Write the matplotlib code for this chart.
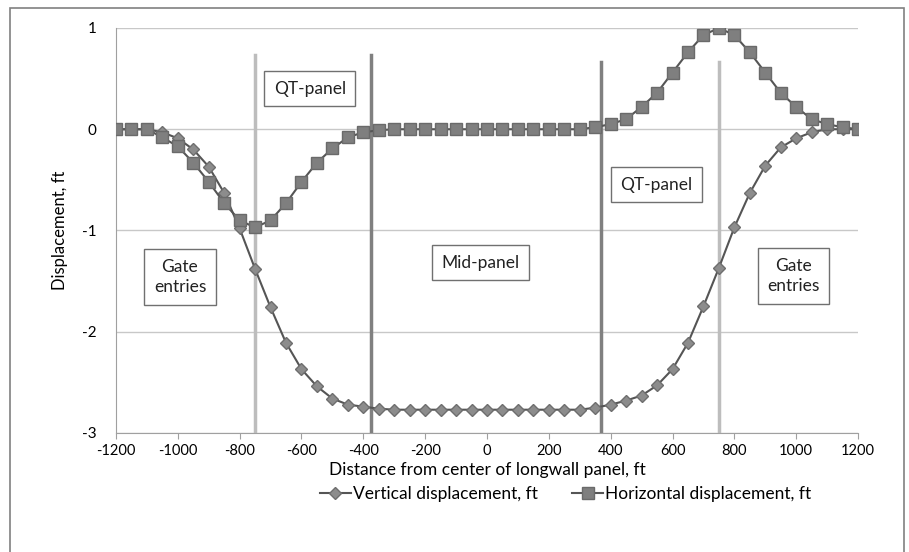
import matplotlib
matplotlib.use('Agg')
import matplotlib.pyplot as plt
from matplotlib.patches import Rectangle

plt.rcParams['font.family'] = ['Lato', 'DejaVu Sans']
plt.rcParams['axes.unicode_minus'] = False

# distance from panel centre, ft (every 50 ft)
distance = list(range(-1200, 1201, 50))

vertical = [0, 0, 0, -0.03, -0.09, -0.2, -0.37, -0.63, -0.98, -1.38, -1.76,
            -2.11, -2.37, -2.54, -2.66, -2.72, -2.74, -2.76,
            -2.77, -2.77, -2.77, -2.77, -2.77, -2.77, -2.77, -2.77, -2.77,
            -2.77, -2.77, -2.77, -2.77,
            -2.75, -2.72, -2.68, -2.63, -2.53, -2.37, -2.11, -1.75, -1.37,
            -0.97, -0.63, -0.36, -0.18, -0.09, -0.03, 0, 0, 0]

horizontal = [0, 0, 0, -0.08, -0.17, -0.33, -0.52, -0.73, -0.9, -0.97, -0.9,
              -0.73, -0.52, -0.33, -0.19, -0.08, -0.03, -0.01,
              0, 0, 0, 0, 0, 0, 0, 0, 0, 0, 0, 0, 0,
              0.02, 0.05, 0.1, 0.22, 0.36, 0.56, 0.76, 0.93, 1.0, 0.93,
              0.76, 0.56, 0.36, 0.22, 0.1, 0.05, 0.02, 0]

# zone boundaries: (x, top of line, colour)
boundaries = [(-750, 0.73, '#bdbdbd'), (-375, 0.73, '#808080'),
              (370, 0.66, '#808080'), (750, 0.66, '#bdbdbd')]

zone_labels = [('QT-panel', -573, 0.40), ('QT-panel', 548, -0.55),
               ('Gate\nentries', -993, -1.46), ('Mid-panel', -20, -1.32),
               ('Gate\nentries', 992, -1.45)]

fig = plt.figure(figsize=(9.09, 5.52), dpi=100)
fig.patches.append(Rectangle((0.011, -0.05), 0.984, 1.036, transform=fig.transFigure,
                             fill=False, edgecolor='#808080', linewidth=1.2))

ax = fig.add_axes([0.1276, 0.2156, 0.8163, 0.7337])

for x, top, col in boundaries:
    ax.plot([x, x], [-3, top], color=col, linewidth=2.5, zorder=2)

ax.plot(distance, vertical, color='#555555', linewidth=1.5, marker='D',
        markersize=6, markerfacecolor='#8c8c8c', markeredgecolor='#6e6e6e',
        label='Vertical displacement, ft', zorder=3)
ax.plot(distance, horizontal, color='#555555', linewidth=1.5, marker='s',
        markersize=8, markerfacecolor='#7f7f7f', markeredgecolor='#6a6a6a',
        label='Horizontal displacement, ft', zorder=4)

for text, x, y in zone_labels:
    ax.text(x, y, text, ha='center', va='center', fontsize=12.5, color='#222222',
            linespacing=1.35, zorder=5,
            bbox=dict(boxstyle='square,pad=0.55', facecolor='white',
                      edgecolor='#707070', linewidth=1))

ax.set_xlim(-1200, 1200)
ax.set_ylim(-3, 1)
ax.set_xticks(range(-1200, 1201, 200))
ax.set_yticks([-3, -2, -1, 0, 1])
ax.yaxis.grid(True, color='#c8c8c8', linewidth=1)
ax.set_axisbelow(True)
for side in ['top', 'right']:
    ax.spines[side].set_visible(False)
ax.spines['left'].set_color('#a0a0a0')
ax.spines['bottom'].set_color('#a0a0a0')
ax.tick_params(axis='x', length=4, color='#a0a0a0', labelsize=10.5, pad=4)
ax.tick_params(axis='y', length=0, labelsize=11, pad=14)

ax.set_xlabel('Distance from center of longwall panel, ft', fontsize=12.5, labelpad=3)
ax.set_ylabel('Displacement, ft', fontsize=12, labelpad=10)

fig.legend(loc='center', bbox_to_anchor=(0.622, 0.105), ncol=2, frameon=False,
           fontsize=12.5, handlelength=1.8, handletextpad=0.1, columnspacing=2.0)

fig.savefig('out.png', dpi=100)
